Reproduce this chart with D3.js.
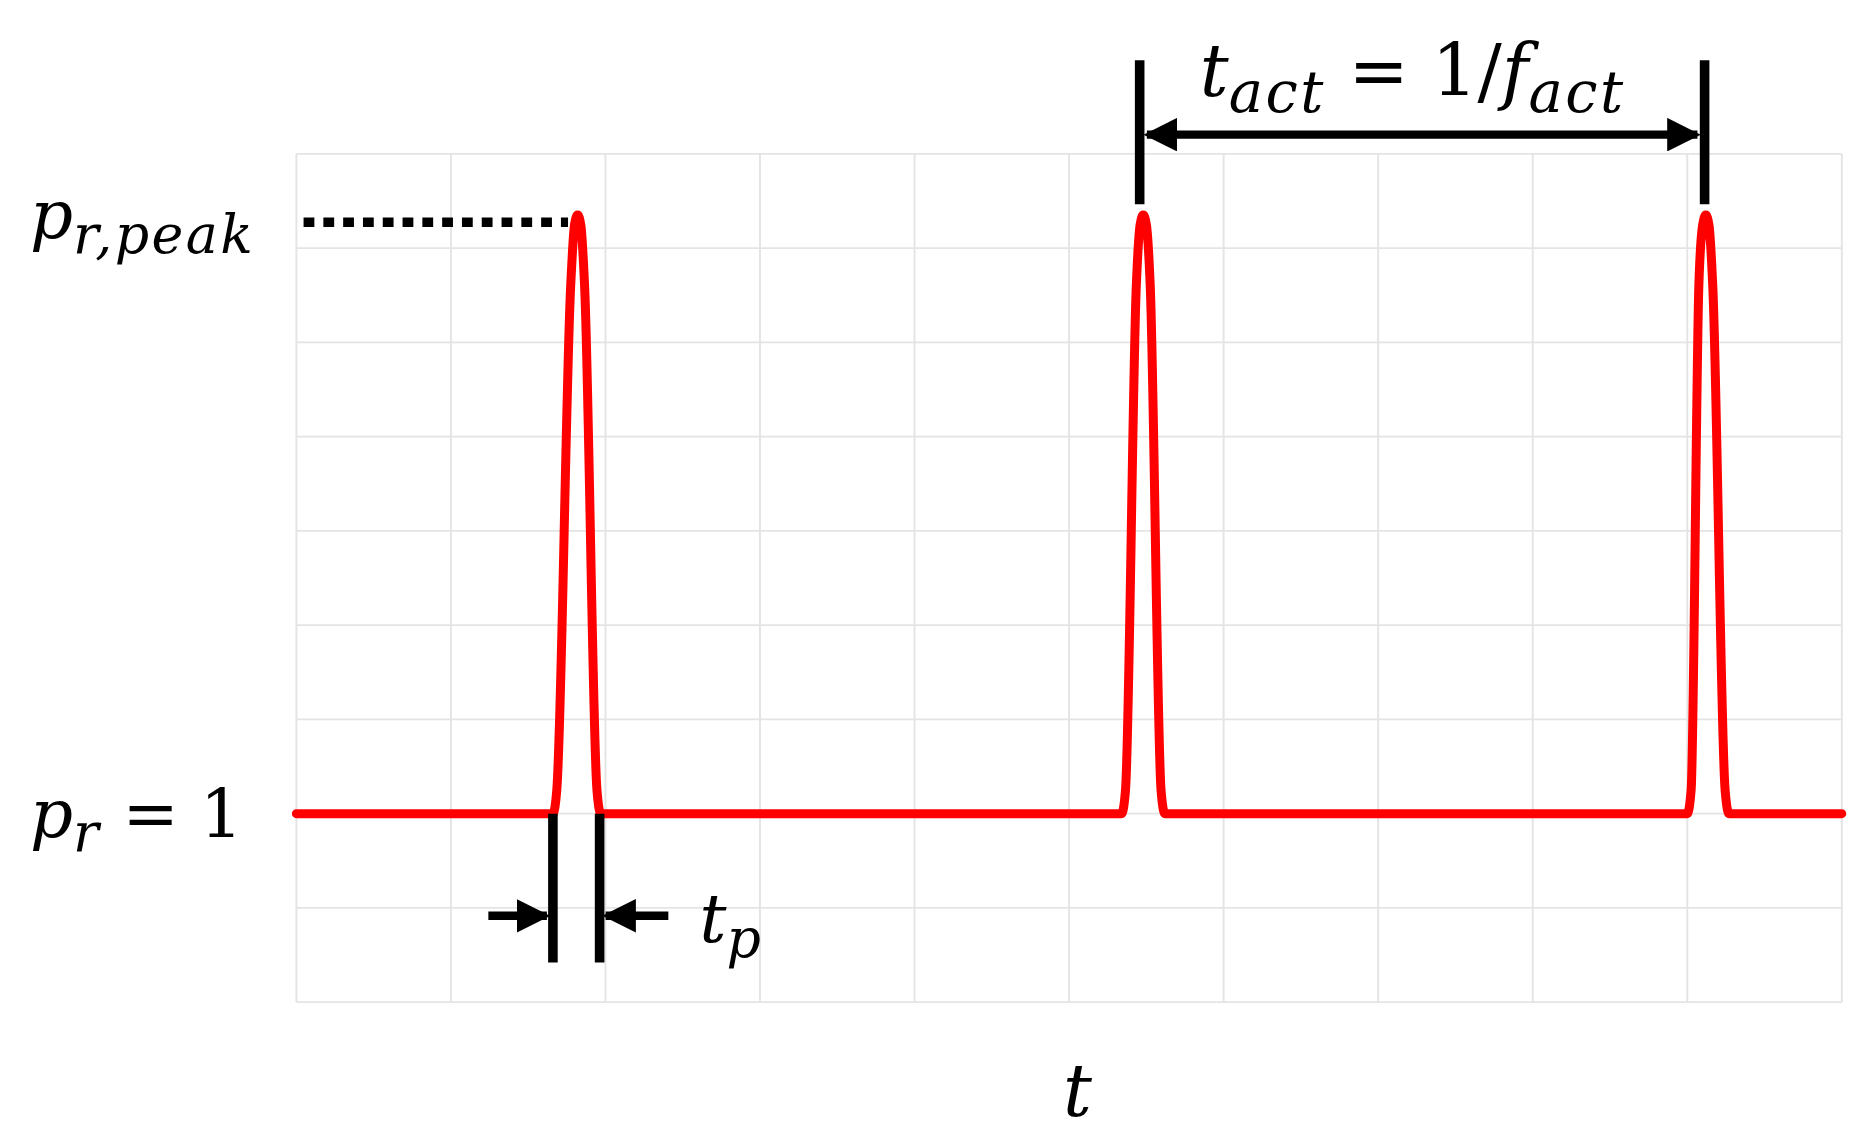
<!DOCTYPE html>
<html><head><meta charset="utf-8">
<script src="https://cdn.jsdelivr.net/npm/d3@7"></script>
<style>body{margin:0;background:#fff}text{font-family:"DejaVu Serif",serif}</style>
</head><body>
<script>
// pulse shape, x in grid units (0..10), y in grid units (0..9)
var baseY = 2, peakY = 8.35
var pulses = [
  {start: 1.66, top: 1.82, end: 1.97},
  {start: 5.34, top: 5.48, end: 5.62},
  {start: 9.00, top: 9.12, end: 9.27}
]
var xTicks = d3.range(0, 11)
var yTicks = d3.range(0, 10)

var svg = d3.select('body').append('svg')
  .attr('width', 1873).attr('height', 1138)
  .attr('viewBox', '0 0 1561 948')

var x = d3.scaleLinear().domain([0, 10]).range([247, 1535])
var y = d3.scaleLinear().domain([0, 9]).range([835, 128])

svg.append('g').selectAll('line').data(xTicks).join('line')
  .attr('x1', d => x(d)).attr('x2', d => x(d)).attr('y1', y(0)).attr('y2', y(9))
  .attr('stroke', '#e4e4e4').attr('stroke-width', 1.6)
svg.append('g').selectAll('line').data(yTicks).join('line')
  .attr('y1', d => y(d)).attr('y2', d => y(d)).attr('x1', x(0)).attr('x2', x(10))
  .attr('stroke', '#e4e4e4').attr('stroke-width', 1.6)

var pts = [[0, baseY]]
pulses.forEach(p => {
  pts.push([p.start, baseY], [p.start + 0.025, 2.25], [p.top - 0.045, 7.6], [p.top - 0.02, 8.25], [p.top, peakY],
    [p.top + 0.02, 8.25], [p.top + 0.045, 7.6], [p.end - 0.025, 2.25], [p.end, baseY])
})
pts.push([10, baseY])

svg.append('path').datum(pts)
  .attr('d', d3.line().x(d => x(d[0])).y(d => y(d[1])).curve(d3.curveMonotoneX))
  .attr('fill', 'none').attr('stroke', '#ff0000').attr('stroke-width', 7.5)
  .attr('stroke-linejoin', 'round').attr('stroke-linecap', 'round')

// dotted peak line
svg.append('line').attr('x1', 253).attr('x2', x(pulses[0].top) - 8)
  .attr('y1', y(peakY) + 6).attr('y2', y(peakY) + 6)
  .attr('stroke', '#000').attr('stroke-width', 8).attr('stroke-dasharray', '9 7.5')

var defs = svg.append('defs')
defs.append('marker').attr('id', 'ah').attr('viewBox', '0 0 10 10')
  .attr('refX', 9).attr('refY', 5).attr('markerWidth', 4).attr('markerHeight', 4)
  .attr('orient', 'auto-start-reverse').attr('markerUnits', 'strokeWidth')
  .append('path').attr('d', 'M0,0L10,5L0,10z').attr('fill', '#000')

// t_act bars + arrow
var p1 = x(pulses[1].top) - 3, p2 = x(pulses[2].top) - 1
;[p1, p2].forEach(px => svg.append('line').attr('x1', px).attr('x2', px)
  .attr('y1', 50).attr('y2', 170).attr('stroke', '#000').attr('stroke-width', 8))
svg.append('line').attr('x1', p1 + 6).attr('x2', p2 - 6).attr('y1', 112).attr('y2', 112)
  .attr('stroke', '#000').attr('stroke-width', 7)
  .attr('marker-start', 'url(#ah)').attr('marker-end', 'url(#ah)')

// t_p bars + arrows
var q1 = x(pulses[0].start), q2 = x(pulses[0].end) - 1
;[q1, q2].forEach(px => svg.append('line').attr('x1', px).attr('x2', px)
  .attr('y1', y(baseY)).attr('y2', 802).attr('stroke', '#000').attr('stroke-width', 8))
svg.append('line').attr('x1', 407).attr('x2', q1 - 5).attr('y1', 763).attr('y2', 763)
  .attr('stroke', '#000').attr('stroke-width', 7).attr('marker-end', 'url(#ah)')
svg.append('line').attr('x1', 557).attr('x2', q2 + 5).attr('y1', 763).attr('y2', 763)
  .attr('stroke', '#000').attr('stroke-width', 7).attr('marker-end', 'url(#ah)')

function label(xp, yp, parts, size){
  var t = svg.append('text').attr('x', xp).attr('y', yp).attr('font-size', size)
  parts.forEach(p => {
    var s = t.append('tspan').text(p.t)
    if (p.i) s.attr('font-style', 'italic')
    if (p.sub) s.attr('font-size', size * 0.8).attr('dy', size * 0.22).attr('letter-spacing', 2)
    if (p.up) s.attr('dy', -size * 0.22)
  })
  return t
}
label(25, 198, [{t: 'p', i: 1}, {t: 'r,peak', i: 1, sub: 1}], 56)
label(25, 697, [{t: 'p', i: 1}, {t: 'r', i: 1, sub: 1}, {t: ' = 1', up: 1}], 56)
label(583, 785, [{t: 't', i: 1}, {t: 'p', i: 1, sub: 1}], 56)
label(1000, 80, [{t: 't', i: 1}, {t: 'act', i: 1, sub: 1}, {t: ' = 1/', up: 1}, {t: 'f', i: 1}, {t: 'act', i: 1, sub: 1}], 60)
label(886, 930, [{t: 't', i: 1}], 60)
</script>
</body></html>
